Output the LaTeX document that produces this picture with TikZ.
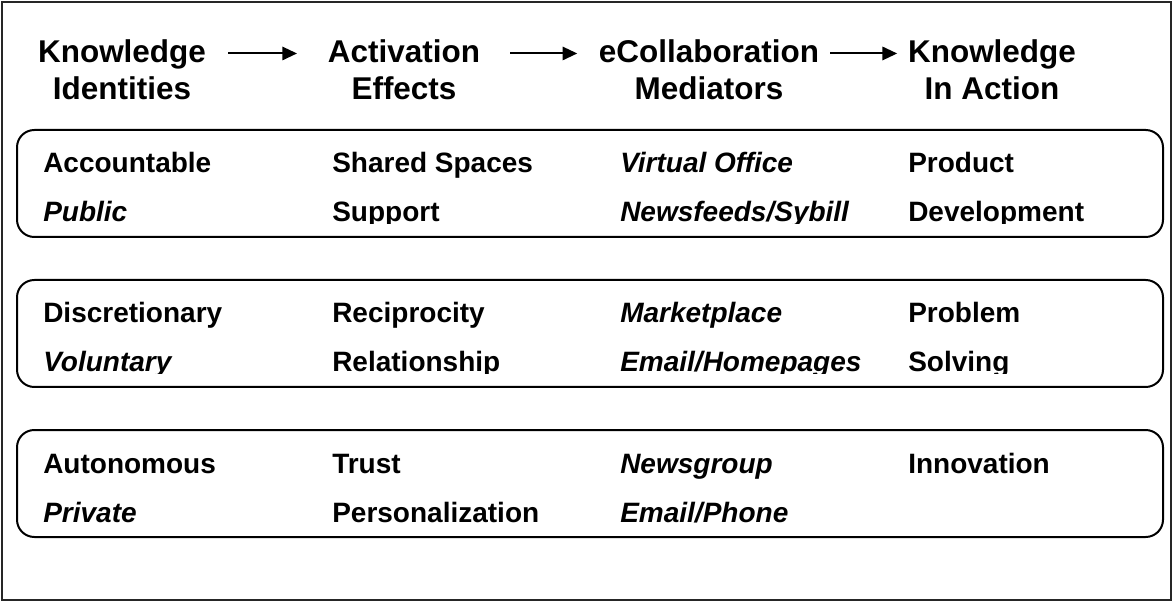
\documentclass[tikz,border=0pt]{standalone}
\usepackage{fontspec}
\setmainfont{Liberation Sans}
\usetikzlibrary{arrows.meta}

\tikzset{
  head/.style={font=\fontsize{23.6}{28}\selectfont\bfseries, inner sep=0pt, anchor=base},
  item/.style={font=\fontsize{21}{25}\selectfont\bfseries, inner sep=0pt, anchor=base west},
  band/.style={draw, line width=1.5pt, rounded corners=13pt},
}

\begin{document}
\begin{tikzpicture}[x=0.75pt, y=-0.75pt, >={Triangle[length=11pt,width=10pt]}]
\useasboundingbox (0,0) rectangle (1175,602);
\draw[line width=1.2pt, black!85] (2,2) rectangle (1171,600);

% column headings
\foreach \n/\x/\a/\b in {ki/122/Knowledge/Identities, ae/404/Activation/Effects, em/709/eCollaboration/Mediators, ka/992/Knowledge/In Action}
{
    \node[head] (\n1) at (\x,63) {\a};
    \node[head] (\n2) at (\x,100) {\b};
}
\foreach \a/\b/\s/\e in {ki1/ae1/16.5pt/23pt, ae1/em1/22.5pt/16pt, em1/ka1/8pt/8pt}
{
    \draw[->, line width=1.5pt, shorten <=\s, shorten >=\e]([yshift=4.5pt]\a.mid east)--([yshift=4.5pt]\b.mid west);
}

\begin{scope}
    \draw[band](17,130) rectangle (1163,237);
\foreach \n/\x/\s/\a in {acc/43/\relax/Accountable, shs/332/\relax/Shared Spaces, vof/620/\itshape/Virtual Office, prd/908/\relax/Product}
{
    \node[item](\n) at (\x,173){\s\a};
}
\begin{scope}
    \clip(17,130) rectangle (1163,223.5);
\foreach \n/\x/\s/\a in {pub/43/\itshape/Public, sup/332/\relax/Support, nfd/620/\itshape/{Newsfeeds/Sybill}, dev/908/\relax/Development}
{
    \node[item](\n) at (\x,222){\s\a};
}
\end{scope}
\end{scope}

\begin{scope}[shift={(0,150)}]
    \draw[band](17,130) rectangle (1163,237);
\foreach \n/\x/\s/\a in {dis/43/\relax/Discretionary, rec/332/\relax/Reciprocity, mkt/620/\itshape/Marketplace, prb/908/\relax/Problem}
{
    \node[item](\n) at (\x,173){\s\a};
}
\begin{scope}
    \clip(17,130) rectangle (1163,223.5);
\foreach \n/\x/\s/\a in {vol/43/\itshape/Voluntary, rel/332/\relax/Relationship, emh/620/\itshape/{Email/Homepages}, sol/908/\relax/Solving}
{
    \node[item](\n) at (\x,222){\s\a};
}
\end{scope}
\end{scope}

\begin{scope}[shift={(0,300)}]
    \draw[band](17,130) rectangle (1163,237);
\foreach \n/\x/\s/\a in {aut/43/\relax/Autonomous, tru/332/\relax/Trust, nwg/620/\itshape/Newsgroup, inn/908/\relax/Innovation}
{
    \node[item](\n) at (\x,173){\s\a};
}
\foreach \n/\x/\s/\a in {prv/43/\itshape/Private, per/332/\relax/Personalization, emp/620/\itshape/{Email/Phone}}
{
    \node[item](\n) at (\x,222){\s\a};
}
\end{scope}
\end{tikzpicture}
\end{document}
